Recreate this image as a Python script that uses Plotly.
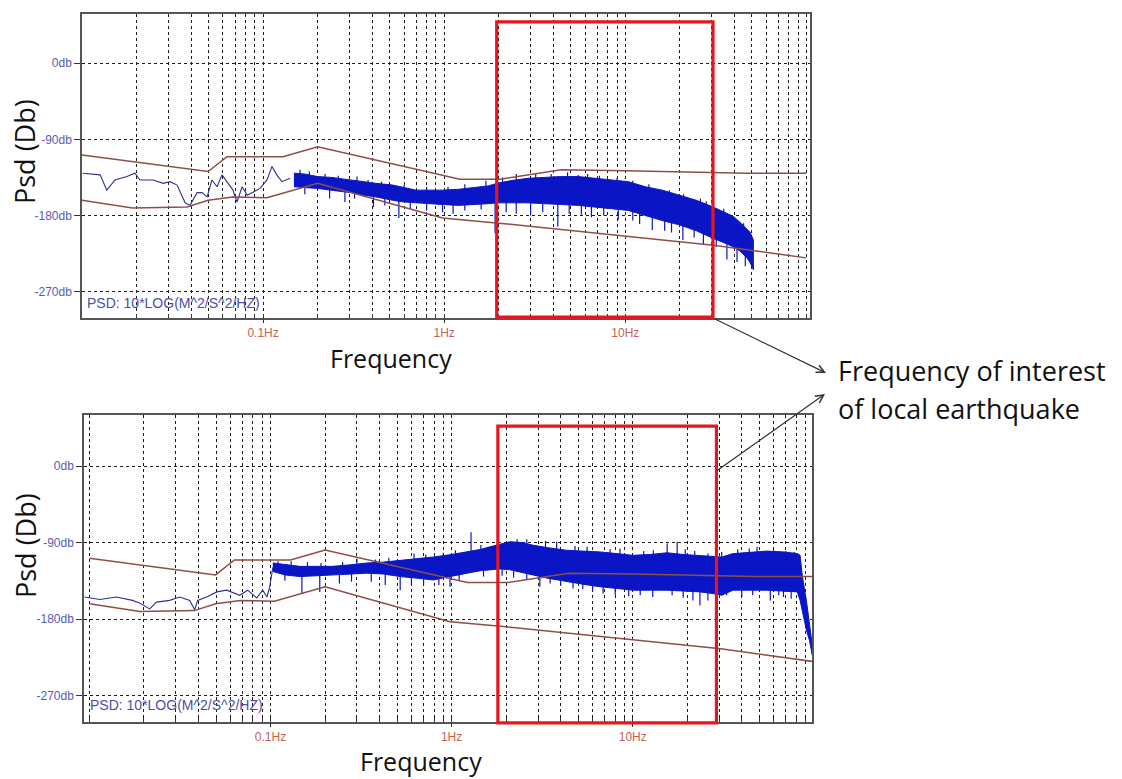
import numpy as np
import plotly.graph_objects as go

# ---------------- axis ticks ----------------
freq_tick_hz = [0.1, 1, 10]
freq_tick_text = ["0.1Hz", "1Hz", "10Hz"]
db_tick_vals = [-270, -180, -90, 0]
db_tick_text = ["-270db", "-180db", "-90db", "0db"]

# ---------------- station noise model (high / low bounds) ----------------
model_hi_hz = [0.01, 0.0497, 0.0632, 0.129, 0.2, 1.22, 2.04, 4.43, 10, 47, 100]
model_hi_db = [-108.5, -128, -110.5, -110.5, -98.7, -137, -137, -126, -127, -130, -130]
model_lo_hz = [0.01, 0.019, 0.038, 0.0497, 0.068, 0.105, 0.2, 0.98, 2.0, 30.6, 100]
model_lo_db = [-162, -171, -170, -162, -158, -159, -142, -183, -189, -215, -230]

# ---------------- upper record ----------------
top_line_hz = [0.0101, 0.0126, 0.0137, 0.0152, 0.0177, 0.0196, 0.0209, 0.0247, 0.0281,
               0.0306, 0.0335, 0.0371, 0.0395, 0.0432, 0.046, 0.0491, 0.0522, 0.0557,
               0.0593, 0.0632, 0.0682, 0.0718, 0.0766, 0.0817, 0.0881, 0.0962, 0.105,
               0.112, 0.119, 0.127, 0.141]
top_line_db = [-130, -132, -150, -138, -134, -130, -138, -138, -142, -140, -144, -165,
               -168, -153, -153, -158, -138, -146, -132, -140, -150, -164, -146, -156,
               -152, -148, -138, -122, -132, -140, -136]
top_band_hz = [0.148, 0.17, 0.2, 0.24, 0.28, 0.31, 0.36, 0.42, 0.47, 0.52,
               0.6, 0.7, 0.82, 0.98, 1.2, 1.5, 1.75, 1.96, 2.3, 2.9,
               3.5, 4.4, 5.5, 6.8, 8.4, 10.4, 12.9, 16, 19.9, 24.7,
               30.6, 35, 39.5, 43, 47, 49, 51]
top_band_hi = [-130, -131, -134, -135, -137, -138, -140, -142, -143, -144,
               -147, -150, -150, -150, -149, -147, -145, -142, -139, -136,
               -135, -134, -134, -136, -138, -140, -146, -150, -156, -162,
               -170, -176, -181, -188, -196, -200, -209]
top_band_lo = [-146, -147, -148, -150, -152, -153, -156, -158, -160, -162,
               -164, -165, -166, -167, -168, -167, -166, -165, -165, -165,
               -166, -167, -168, -170, -172, -174, -180, -186, -191, -198,
               -207, -212, -217, -222, -230, -236, -244]
top_up_hz = [0.16, 0.18, 0.22, 0.26, 0.33, 0.38, 0.45, 0.6, 0.8, 1.05,
             1.3, 1.7, 2.1, 2.5, 3.2, 3.9, 4.8, 5.5, 6.2, 7.2,
             9.0, 11, 13.5, 17.5, 21, 26, 28, 35, 45]
top_up_db = [-126, -128, -131, -133, -134, -138, -140, -144, -146, -146,
             -143, -139, -135, -131, -130, -131, -129, -132, -131, -133,
             -136, -139, -143, -150, -155, -160, -163, -172, -189]
top_dn_hz = [0.17, 0.233, 0.283, 0.32, 0.407, 0.47, 0.562, 0.65, 0.8, 0.98,
             1.12, 1.3, 1.6, 1.91, 2.2, 2.5, 3.0, 3.5, 4.24, 4.9,
             5.72, 6.5, 7.6, 9.15, 11, 12, 14.1, 16.5, 18, 20.8,
             24, 27, 31.8, 36.4, 41.4, 46]
top_dn_db = [-155, -160, -164, -160, -170, -168, -183, -172, -174, -176,
             -178, -174, -173, -201, -176, -178, -180, -176, -193, -178,
             -179, -182, -180, -185, -186, -190, -197, -198, -200, -209,
             -206, -214, -217, -232, -235, -240]

# ---------------- lower record ----------------
bot_line_hz = [0.0094, 0.0114, 0.0141, 0.0173, 0.0189, 0.0215, 0.0235, 0.0277, 0.0315,
               0.0358, 0.0381, 0.0396, 0.0444, 0.0505, 0.0573, 0.0618, 0.0676, 0.0748,
               0.0839, 0.0906, 0.0955, 0.099, 0.103]
bot_line_db = [-154, -157, -154, -158, -161, -168, -160, -158, -154, -158, -169, -158,
               -154, -148, -146, -149, -152, -146, -155, -146, -154, -142, -119]
bot_band_hz = [0.103, 0.12, 0.145, 0.18, 0.22, 0.28, 0.34, 0.42, 0.52, 0.65,
               0.79, 1.0, 1.22, 1.45, 1.63, 1.85, 2.1, 2.45, 2.8, 3.4,
               4.3, 5.3, 6.6, 8.2, 10, 12.5, 15.5, 19, 23.5, 27.8,
               31, 35.8, 45, 55, 68, 81, 84, 86.5, 91, 94.6,
               98]
bot_band_hi = [-114, -116, -118, -118, -118, -116, -114, -113, -111, -109,
               -107, -104, -101, -98, -95, -92, -89, -90, -93, -96,
               -99, -100, -101, -103, -105, -104, -102, -104, -105, -106,
               -107, -103, -101, -100, -101, -103, -105, -130, -158, -189,
               -210]
bot_band_lo = [-124, -128, -130, -129, -128, -127, -126, -127, -130, -132,
               -134, -130, -126, -123, -122, -121, -122, -125, -128, -132,
               -136, -139, -142, -144, -146, -146, -146, -147, -148, -150,
               -152, -146, -146, -146, -147, -148, -158, -173, -193, -205,
               -222]
bot_up_hz = [0.11, 0.13, 0.16, 0.19, 0.25, 0.3, 0.38, 0.45, 0.62, 0.72,
             0.9, 1.05, 1.28, 1.45, 1.8, 2.3, 2.6, 3.3, 3.8, 4.8,
             5.6, 7.5, 8.5, 11.5, 13, 15.5, 17.6, 19.5, 22, 26,
             31, 38, 44, 48.6, 60, 70, 78]
bot_up_db = [-112, -112, -113, -114, -113, -109, -110, -108, -103, -104,
             -102, -99, -78, -93, -91, -86, -86, -88, -89, -94,
             -95, -98, -97, -100, -99, -91, -89, -98, -100, -103,
             -101, -98, -97, -95, -99, -100, -101]
bot_dn_hz = [0.12, 0.149, 0.187, 0.24, 0.28, 0.36, 0.43, 0.52, 0.6, 0.7,
             0.85, 0.98, 1.1, 1.5, 1.9, 2.2, 2.6, 3.07, 3.5, 4.0,
             4.68, 5.3, 6.0, 6.86, 8, 9.5, 11, 12.9, 16.5, 19,
             21.5, 23.5, 26, 29, 33, 40, 46, 57.5, 64, 68,
             75]
bot_dn_db = [-135, -150, -148, -138, -136, -136, -140, -146, -140, -140,
             -140, -142, -134, -130, -129, -131, -134, -142, -138, -141,
             -144, -145, -148, -150, -152, -153, -152, -154, -152, -155,
             -158, -164, -158, -160, -152, -154, -152, -158, -152, -154,
             -156]

# frequency band of interest for a local earthquake
box_top_hz = [1.95, 30.5]
box_bot_hz = [1.8, 29.0]

BROWN = "#8e4e48"
BAND_BLUE = "#0a16c6"
LINE_BLUE = "#2c3290"
RED = "#e8161c"
GRID = "#1c1c1c"

W, H = 1122, 779


def px_x(px):
    return px / W


def px_y(py):
    return 1 - py / H


grid_hz = [m * 10.0 ** e for e in range(-2, 2) for m in range(1, 10)] + [100.0]

fig = go.Figure()

panels = [
    dict(xa="x", ya="y", line=(top_line_hz, top_line_db),
         band=(top_band_hz, top_band_hi, top_band_lo),
         spikes=(top_up_hz + top_dn_hz, top_up_db + top_dn_db)),
    dict(xa="x2", ya="y2", line=(bot_line_hz, bot_line_db),
         band=(bot_band_hz, bot_band_hi, bot_band_lo),
         spikes=(bot_up_hz + bot_dn_hz, bot_up_db + bot_dn_db)),
]

for p in panels:
    xa, ya = p["xa"], p["ya"]
    bhz, bhi, blo = p["band"]
    # dense PSD band
    fig.add_trace(go.Scatter(
        x=list(bhz) + list(bhz)[::-1], y=list(bhi) + list(blo)[::-1],
        mode="lines", fill="toself", fillcolor=BAND_BLUE,
        line=dict(color=BAND_BLUE, width=1), xaxis=xa, yaxis=ya,
        hoverinfo="skip", showlegend=False))
    # spectral spikes leaving the band
    shz, sdb = p["spikes"]
    mid = (np.array(bhi) + np.array(blo)) / 2.0
    base = np.interp(np.log10(shz), np.log10(bhz), mid)
    sx, sy = [], []
    for f, tip, b in zip(shz, sdb, base):
        sx += [f, f, None]
        sy += [tip, float(b), None]
    fig.add_trace(go.Scatter(x=sx, y=sy, mode="lines",
                             line=dict(color=BAND_BLUE, width=1.2),
                             xaxis=xa, yaxis=ya, hoverinfo="skip", showlegend=False))
    # low-frequency part of the spectrum
    lhz, ldb = p["line"]
    fig.add_trace(go.Scatter(x=lhz, y=ldb, mode="lines",
                             line=dict(color=LINE_BLUE, width=1.1),
                             xaxis=xa, yaxis=ya, showlegend=False))
    # noise model bounds
    fig.add_trace(go.Scatter(x=model_hi_hz, y=model_hi_db, mode="lines",
                             line=dict(color=BROWN, width=1.5),
                             xaxis=xa, yaxis=ya, showlegend=False))
    fig.add_trace(go.Scatter(x=model_lo_hz, y=model_lo_db, mode="lines",
                             line=dict(color=BROWN, width=1.5),
                             xaxis=xa, yaxis=ya, showlegend=False))

# empty traces so the label axes are drawn
fig.add_trace(go.Scatter(x=[], y=[], xaxis="x3", yaxis="y", showlegend=False))
fig.add_trace(go.Scatter(x=[], y=[], xaxis="x4", yaxis="y2", showlegend=False))

tick_font = dict(family="Liberation Sans, Arial", size=12)


def grid_axis(domain, rng, anchor):
    return dict(type="log", range=rng, domain=domain, anchor=anchor,
                tickmode="array", tickvals=grid_hz, ticktext=[""] * len(grid_hz),
                ticks="inside", ticklen=4, tickcolor="#333", tickwidth=1,
                showgrid=True, gridcolor=GRID, griddash="3px,3px", gridwidth=1,
                showline=True, mirror=True, linecolor="#555", linewidth=1.5,
                zeroline=False, fixedrange=True)


def label_axis(rng, over, anchor):
    return dict(type="log", range=rng, overlaying=over, anchor=anchor,
                tickmode="array", tickvals=freq_tick_hz, ticktext=freq_tick_text,
                ticks="outside", ticklen=4, tickcolor="#333", tickwidth=1,
                tickfont=dict(color="#c8614f", **tick_font),
                showgrid=False, showline=False, zeroline=False, fixedrange=True)


def db_axis(domain, rng, anchor):
    return dict(range=rng, domain=domain, anchor=anchor,
                tickmode="array", tickvals=db_tick_vals, ticktext=db_tick_text,
                ticks="outside", ticklen=6, tickcolor="#333", tickwidth=1,
                tickfont=dict(color="#5a5ab6", **tick_font),
                showgrid=True, gridcolor=GRID, griddash="3px,3px", gridwidth=1,
                showline=True, mirror=True, linecolor="#555", linewidth=1.5,
                zeroline=False, fixedrange=True)


top_xr = [-2.0, 2.02]
bot_xr = [-2.03, 1.99]
fig.update_layout(
    width=W, height=H,
    margin=dict(l=0, r=0, t=0, b=0),
    paper_bgcolor="white", plot_bgcolor="white",
    showlegend=False,
    xaxis=grid_axis([px_x(82), px_x(810)], top_xr, "y"),
    yaxis=db_axis([px_y(318), px_y(14)], [-301, 58], "x"),
    xaxis2=grid_axis([px_x(84), px_x(812)], bot_xr, "y2"),
    yaxis2=db_axis([px_y(722), px_y(415)], [-301, 60], "x2"),
    xaxis3=label_axis(top_xr, "x", "y"),
    xaxis4=label_axis(bot_xr, "x2", "y2"),
)

# band-of-interest boxes
for xa, ya, box, (y0, y1) in [("x", "y", box_top_hz, (0.003, 0.974)),
                              ("x2", "y2", box_bot_hz, (-0.003, 0.964))]:
    fig.add_shape(type="rect", xref=xa, yref=ya + " domain",
                  x0=box[0], x1=box[1], y0=y0, y1=y1,
                  line=dict(color=RED, width=3.2), layer="above")

title_font = dict(family="Open Sans", size=27, color="#111")
freq_font = dict(family="Open Sans", size=25, color="#111")
ann = []
for cx, cy in [(25, 152), (25, 546)]:
    ann.append(dict(xref="paper", yref="paper", x=px_x(cx), y=px_y(cy), text="Psd (Db)",
                    textangle=-90, showarrow=False, font=title_font,
                    xanchor="center", yanchor="middle"))
# axis titles under each panel (lower one anchored to the page bottom)
ann.append(dict(xref="paper", yref="paper", x=px_x(391), y=px_y(358), text="Frequency",
                showarrow=False, font=freq_font, xanchor="center", yanchor="middle"))
ann.append(dict(xref="paper", yref="paper", x=px_x(421), y=0, text="Frequency",
                showarrow=False, font=freq_font, xanchor="center", yanchor="bottom",
                borderpad=0))
for lx, cy in [(85, 303), (88, 705)]:
    ann.append(dict(xref="paper", yref="paper", x=px_x(lx), y=px_y(cy),
                    text="PSD: 10*LOG(M^2/S^2/HZ)", showarrow=False,
                    font=dict(family="Liberation Sans, Arial", size=14, color="#4e4ea8"),
                    xanchor="left", yanchor="middle"))
# callout text and arrows
note_font = dict(family="Open Sans", size=27, color="#111")
ann.append(dict(xref="paper", yref="paper", x=px_x(836), y=px_y(370),
                text="Frequency of interest", showarrow=False, font=note_font,
                xanchor="left", yanchor="middle"))
ann.append(dict(xref="paper", yref="paper", x=px_x(836), y=px_y(408),
                text="of local earthquake", showarrow=False, font=note_font,
                xanchor="left", yanchor="middle"))
for hx, hy, tx, ty in [(826, 373, 713, 318), (825, 394, 715, 472)]:
    ann.append(dict(xref="paper", yref="paper", x=px_x(hx), y=px_y(hy), text="",
                    showarrow=True, arrowhead=5, arrowsize=1.3, arrowwidth=1.2,
                    arrowcolor="#333", ax=tx - hx, ay=ty - hy, axref="pixel", ayref="pixel",
                    standoff=0))
fig.update_layout(annotations=ann)

fig.write_html("out.html")
